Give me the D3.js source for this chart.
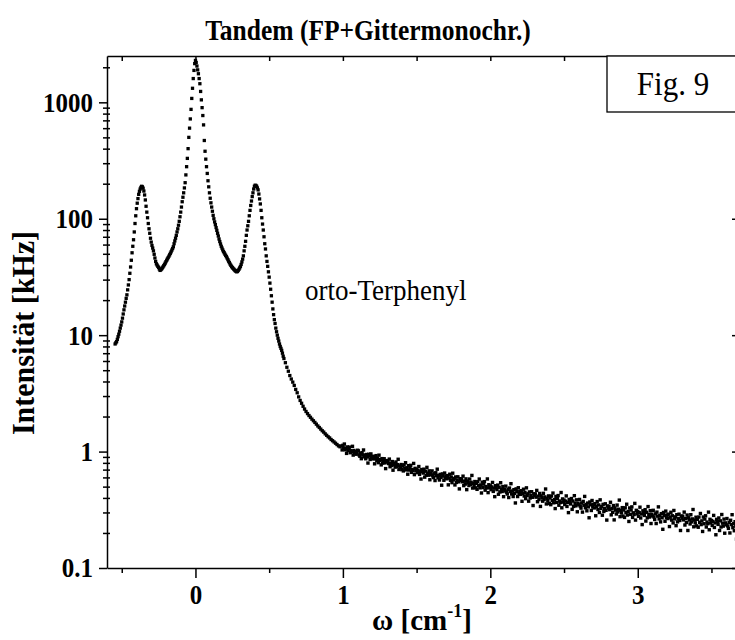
<!DOCTYPE html>
<html>
<head>
<meta charset="utf-8">
<script src="https://cdn.jsdelivr.net/npm/d3@7/dist/d3.min.js"></script>
<style>
  html, body { margin: 0; padding: 0; background: #fff; }
  svg { display: block; }
</style>
</head>
<body>
<svg id="chart" width="735" height="640"></svg>
<script>
// Brillouin spectrum of ortho-terphenyl, tandem spectrometer (FP + grating monochromator)
// [omega in cm^-1, intensity in kHz]
const centralScan = [
[-0.545,8.4],[-0.540,8.6],[-0.535,8.8],[-0.530,9.2],[-0.525,9.7],[-0.520,10.2],[-0.515,10.8],[-0.510,11.5],
[-0.505,12.2],[-0.500,13.0],[-0.495,14.0],[-0.490,15.2],[-0.485,16.5],[-0.480,17.8],[-0.475,19.2],[-0.470,20.7],
[-0.465,22.2],[-0.460,24.5],[-0.455,27.0],[-0.450,30.0],[-0.445,34],[-0.440,38.5],[-0.435,44],[-0.430,51],
[-0.425,58],[-0.420,66],[-0.415,77],[-0.410,91],[-0.405,106],[-0.400,122],[-0.395,136],[-0.390,149],
[-0.385,162],[-0.380,172],[-0.375,180],[-0.370,186],[-0.365,190],[-0.360,188],[-0.355,183],[-0.350,173],
[-0.345,160],[-0.340,145],[-0.335,128],[-0.330,114],[-0.325,102],[-0.320,91],[-0.315,82],[-0.310,75],
[-0.305,68],[-0.300,63],[-0.295,59],[-0.290,56],[-0.285,53],[-0.280,49.5],[-0.275,46],[-0.270,43],
[-0.265,41],[-0.260,40],[-0.255,39],[-0.250,38.2],[-0.245,37],[-0.240,36],[-0.235,36.5],[-0.230,37],
[-0.225,37.8],[-0.220,38.6],[-0.215,39.5],[-0.210,40.5],[-0.205,41.6],[-0.200,42.8],[-0.195,44],[-0.190,45.2],
[-0.185,46.4],[-0.180,47.7],[-0.175,49],[-0.170,50.5],[-0.165,52],[-0.160,53.8],[-0.155,55.5],[-0.150,57.5],
[-0.145,61],[-0.140,64.5],[-0.135,68],[-0.130,72],[-0.125,77],[-0.120,82],[-0.115,88],[-0.110,95],
[-0.105,104],[-0.100,114],[-0.095,126],[-0.090,140],[-0.085,153],[-0.080,167],[-0.075,184],[-0.070,204],
[-0.065,238],[-0.060,280],[-0.055,330],[-0.050,400],[-0.045,500],[-0.040,600],[-0.035,720],[-0.030,870],
[-0.025,1080],[-0.020,1320],[-0.015,1600],[-0.010,1880],[-0.005,2150],[0.000,2290],[0.005,2200],[0.010,2050],
[0.015,1900],[0.020,1760],[0.025,1600],[0.030,1445],[0.035,1240],[0.040,1050],[0.045,900],[0.050,770],
[0.055,640],[0.060,470],[0.065,380],[0.070,325],[0.075,280],[0.080,245],[0.085,212],[0.090,188],
[0.095,167],[0.100,150],[0.105,137],[0.110,126],[0.115,116],[0.120,107],[0.125,100],[0.130,94],
[0.135,89],[0.140,84],[0.145,79.5],[0.150,75],[0.155,71],[0.160,67],[0.165,63.7],[0.170,60.7],
[0.175,58],[0.180,56],[0.185,54],[0.190,52.3],[0.195,51],[0.200,49.6],[0.205,48.4],[0.210,47.2],
[0.215,45.9],[0.220,44.5],[0.225,43.2],[0.230,42],[0.235,40.8],[0.240,39.8],[0.245,38.9],[0.250,38.1],
[0.255,37.5],[0.260,36.9],[0.265,36.3],[0.270,35.8],[0.275,35.3],[0.280,35],[0.285,35.3],[0.290,36],
[0.295,36.8],[0.300,37.8],[0.305,38.9],[0.310,40.5],[0.315,42.6],[0.320,45],[0.325,48],[0.330,53],
[0.335,58],[0.340,64],[0.345,72],[0.350,80],[0.355,87],[0.360,95],[0.365,106],[0.370,118],
[0.375,130],[0.380,142],[0.385,155],[0.390,167],[0.395,180],[0.400,190],[0.405,194],[0.410,193],
[0.415,190],[0.420,184],[0.425,177],[0.430,163],[0.435,148],[0.440,134],[0.445,118],[0.450,102],
[0.455,90],[0.460,80],[0.465,70],[0.470,61],[0.475,55],[0.480,48],[0.485,43],[0.490,39],
[0.495,35],[0.500,31.5],[0.505,28],[0.510,24.8],[0.515,21.8],[0.520,19.2],[0.525,16.8],[0.530,15],
[0.535,13.6],[0.540,12.6],[0.545,11.5],[0.550,10.7],[0.555,10.0],[0.560,9.4],[0.565,8.9],[0.570,8.4],
[0.575,8.0],[0.580,7.7],[0.585,7.4],[0.590,7.0],[0.595,6.6],[0.600,6.3],
[0.61,5.8],[0.62,5.3],[0.63,4.9],[0.64,4.5],[0.65,4.2],[0.66,3.95],[0.67,3.7],[0.68,3.42],
[0.69,3.2],[0.70,2.95],[0.71,2.75],[0.72,2.6],[0.73,2.45],[0.74,2.32],[0.75,2.21],[0.76,2.12],
[0.77,2.04],[0.78,1.97],[0.79,1.9],[0.80,1.84],[0.81,1.78],[0.82,1.72],[0.83,1.66],[0.84,1.61],
[0.85,1.56],[0.86,1.51],[0.87,1.47],[0.88,1.42],[0.89,1.38],[0.90,1.34],[0.91,1.31],[0.92,1.27],
[0.93,1.24],[0.94,1.21],[0.95,1.18],[0.96,1.15],[0.97,1.12],[0.98,1.10]
];

// Wing of the spectrum, recorded with lower count rate (noisy)
const wingScan = [
[0.990,1.117],[0.995,1.034],[1.000,1.131],[1.005,1.070],[1.010,1.161],[1.015,1.036],[1.020,1.067],[1.025,0.965],
[1.030,1.096],[1.035,1.022],[1.040,1.062],[1.045,1.092],[1.050,0.978],[1.055,1.017],[1.060,0.996],[1.065,1.110],
[1.070,0.933],[1.075,1.022],[1.080,0.980],[1.085,0.999],[1.090,0.949],[1.095,0.976],[1.100,1.027],
[1.105,1.014],[1.110,0.936],[1.115,0.912],[1.120,0.966],[1.125,0.869],[1.130,0.978],[1.135,0.933],[1.140,1.032],
[1.145,0.901],[1.150,0.932],[1.155,0.868],[1.160,0.944],[1.165,0.900],[1.170,0.797],[1.175,0.948],[1.180,0.914],
[1.185,0.856],[1.190,0.955],[1.195,0.883],[1.200,0.908],
[1.205,0.865],[1.210,0.909],[1.215,0.785],[1.220,0.870],[1.225,0.923],[1.230,0.836],[1.235,0.879],[1.240,0.803],
[1.245,0.932],[1.250,0.837],[1.255,0.853],[1.260,0.769],[1.265,0.870],[1.270,0.797],[1.275,0.823],[1.280,0.868],
[1.285,0.800],[1.290,0.714],[1.295,0.837],[1.300,0.814],
[1.305,0.826],[1.310,0.789],[1.315,0.862],[1.320,0.741],[1.325,0.794],[1.330,0.759],[1.335,0.821],[1.340,0.692],
[1.345,0.792],[1.350,0.770],[1.355,0.735],[1.360,0.814],[1.365,0.747],[1.370,0.772],[1.375,0.859],[1.380,0.702],
[1.385,0.753],[1.390,0.728],[1.395,0.774],[1.400,0.700],
[1.405,0.751],[1.410,0.682],[1.415,0.770],[1.420,0.720],[1.425,0.802],[1.430,0.696],[1.435,0.726],[1.440,0.639],
[1.445,0.757],[1.450,0.694],[1.455,0.733],[1.460,0.762],[1.465,0.663],[1.470,0.702],[1.475,0.685],[1.480,0.791],
[1.485,0.634],[1.490,0.718],[1.495,0.684],[1.500,0.703],
[1.505,0.659],[1.510,0.690],[1.515,0.744],[1.520,0.637],[1.525,0.673],[1.530,0.581],[1.535,0.701],[1.540,0.679],
[1.545,0.654],[1.550,0.706],[1.555,0.603],[1.560,0.678],[1.565,0.626],[1.570,0.732],[1.575,0.653],[1.580,0.627],
[1.585,0.683],[1.590,0.573],[1.595,0.647],[1.600,0.631],
[1.605,0.682],[1.610,0.618],[1.615,0.598],[1.620,0.645],[1.625,0.564],[1.630,0.658],[1.635,0.621],[1.640,0.706],
[1.645,0.595],[1.650,0.624],[1.655,0.570],[1.660,0.637],[1.665,0.600],[1.670,0.514],[1.675,0.643],[1.680,0.616],
[1.685,0.567],[1.690,0.654],[1.695,0.593],[1.700,0.616],
[1.705,0.584],[1.710,0.622],[1.715,0.518],[1.720,0.592],[1.725,0.639],[1.730,0.566],[1.735,0.604],[1.740,0.541],
[1.745,0.652],[1.750,0.572],[1.755,0.588],[1.760,0.517],[1.765,0.605],[1.770,0.543],[1.775,0.567],[1.780,0.607],
[1.785,0.550],[1.790,0.478],[1.795,0.585],[1.800,0.566],
[1.805,0.581],[1.810,0.550],[1.815,0.615],[1.820,0.510],[1.825,0.557],[1.830,0.526],[1.835,0.583],[1.840,0.471],
[1.845,0.558],[1.850,0.540],[1.855,0.511],[1.860,0.581],[1.865,0.523],[1.870,0.545],[1.875,0.624],[1.880,0.486],
[1.885,0.532],[1.890,0.510],[1.895,0.553],[1.900,0.488],
[1.905,0.534],[1.910,0.474],[1.915,0.551],[1.920,0.509],[1.925,0.581],[1.930,0.488],[1.935,0.516],[1.940,0.441],
[1.945,0.546],[1.950,0.491],[1.955,0.526],[1.960,0.552],[1.965,0.466],[1.970,0.501],[1.975,0.487],[1.980,0.582],
[1.985,0.444],[1.990,0.519],[1.995,0.489],[2.000,0.508],
[2.005,0.471],[2.010,0.497],[2.015,0.543],[2.020,0.455],[2.025,0.485],[2.030,0.410],[2.035,0.509],[2.040,0.492],
[2.045,0.471],[2.050,0.515],[2.055,0.430],[2.060,0.494],[2.065,0.450],[2.070,0.540],[2.075,0.474],[2.080,0.454],
[2.085,0.501],[2.090,0.410],[2.095,0.471],[2.100,0.459],
[2.105,0.505],[2.110,0.448],[2.115,0.432],[2.120,0.474],[2.125,0.403],[2.130,0.486],[2.135,0.454],[2.140,0.530],
[2.145,0.432],[2.150,0.458],[2.155,0.411],[2.160,0.471],[2.165,0.438],[2.170,0.362],[2.175,0.478],[2.180,0.453],
[2.185,0.411],[2.190,0.489],[2.195,0.434],[2.200,0.456],
[2.205,0.429],[2.210,0.461],[2.215,0.374],[2.220,0.436],[2.225,0.475],[2.230,0.415],[2.235,0.446],[2.240,0.394],
[2.245,0.488],[2.250,0.421],[2.255,0.434],[2.260,0.375],[2.265,0.450],[2.270,0.399],[2.275,0.418],[2.280,0.452],
[2.285,0.405],[2.290,0.344],[2.295,0.434],[2.300,0.419],
[2.305,0.433],[2.310,0.406],[2.315,0.464],[2.320,0.371],[2.325,0.414],[2.330,0.387],[2.335,0.437],[2.340,0.338],
[2.345,0.416],[2.350,0.401],[2.355,0.375],[2.360,0.438],[2.365,0.387],[2.370,0.408],[2.375,0.477],[2.380,0.355],
[2.385,0.397],[2.390,0.378],[2.395,0.416],[2.400,0.358],
[2.405,0.400],[2.410,0.350],[2.415,0.415],[2.420,0.379],[2.425,0.440],[2.430,0.363],[2.435,0.386],[2.440,0.324],
[2.445,0.412],[2.450,0.366],[2.455,0.396],[2.460,0.419],[2.465,0.346],[2.470,0.376],[2.475,0.365],[2.480,0.445],
[2.485,0.329],[2.490,0.392],[2.495,0.368],[2.500,0.383],
[2.505,0.351],[2.510,0.375],[2.515,0.416],[2.520,0.338],[2.525,0.366],[2.530,0.299],[2.535,0.388],[2.540,0.373],
[2.545,0.355],[2.550,0.395],[2.555,0.319],[2.560,0.376],[2.565,0.338],[2.570,0.418],[2.575,0.360],[2.580,0.342],
[2.585,0.385],[2.590,0.304],[2.595,0.360],[2.600,0.349],
[2.605,0.388],[2.610,0.340],[2.615,0.327],[2.620,0.362],[2.625,0.302],[2.630,0.373],[2.635,0.346],[2.640,0.412],
[2.645,0.329],[2.650,0.351],[2.655,0.310],[2.660,0.361],[2.665,0.335],[2.670,0.270],[2.675,0.369],[2.680,0.349],
[2.685,0.312],[2.690,0.380],[2.695,0.334],[2.700,0.352],
[2.705,0.328],[2.710,0.357],[2.715,0.281],[2.720,0.336],[2.725,0.372],[2.730,0.318],[2.735,0.348],[2.740,0.300],
[2.745,0.385],[2.750,0.325],[2.755,0.338],[2.760,0.284],[2.765,0.352],[2.770,0.306],[2.775,0.325],[2.780,0.356],
[2.785,0.313],[2.790,0.258],[2.795,0.341],[2.800,0.327],
[2.805,0.339],[2.810,0.317],[2.815,0.367],[2.820,0.286],[2.825,0.324],[2.830,0.301],[2.835,0.344],[2.840,0.259],
[2.845,0.328],[2.850,0.314],[2.855,0.291],[2.860,0.347],[2.865,0.303],[2.870,0.320],[2.875,0.383],[2.880,0.276],
[2.885,0.312],[2.890,0.297],[2.895,0.330],[2.900,0.279],
[2.905,0.315],[2.910,0.272],[2.915,0.329],[2.920,0.299],[2.925,0.353],[2.930,0.285],[2.935,0.306],[2.940,0.251],
[2.945,0.328],[2.950,0.289],[2.955,0.315],[2.960,0.335],[2.965,0.272],[2.970,0.298],[2.975,0.288],[2.980,0.359],
[2.985,0.258],[2.990,0.313],[2.995,0.292],[3.000,0.306],
[3.005,0.278],[3.010,0.299],[3.015,0.333],[3.020,0.269],[3.025,0.291],[3.030,0.236],[3.035,0.310],[3.040,0.299],
[3.045,0.283],[3.050,0.317],[3.055,0.253],[3.060,0.301],[3.065,0.270],[3.070,0.337],[3.075,0.289],[3.080,0.274],
[3.085,0.311],[3.090,0.241],[3.095,0.290],[3.100,0.280],
[3.105,0.313],[3.110,0.274],[3.115,0.261],[3.120,0.292],[3.125,0.241],[3.130,0.302],[3.135,0.279],[3.140,0.335],
[3.145,0.264],[3.150,0.283],[3.155,0.249],[3.160,0.293],[3.165,0.270],[3.170,0.215],[3.175,0.300],[3.180,0.282],
[3.185,0.252],[3.190,0.308],[3.195,0.270],[3.200,0.286],
[3.205,0.266],[3.210,0.290],[3.215,0.227],[3.220,0.273],[3.225,0.301],[3.230,0.258],[3.235,0.281],[3.240,0.244],
[3.245,0.312],[3.250,0.264],[3.255,0.275],[3.260,0.231],[3.265,0.287],[3.270,0.249],[3.275,0.265],[3.280,0.290],
[3.285,0.256],[3.290,0.210],[3.295,0.279],[3.300,0.268],
[3.305,0.279],[3.310,0.259],[3.315,0.302],[3.320,0.234],[3.325,0.266],[3.330,0.246],[3.335,0.285],[3.340,0.210],
[3.345,0.270],[3.350,0.258],[3.355,0.239],[3.360,0.287],[3.365,0.249],[3.370,0.264],[3.375,0.318],[3.380,0.226],
[3.385,0.258],[3.390,0.244],[3.395,0.273],[3.400,0.230],
[3.405,0.262],[3.410,0.224],[3.415,0.274],[3.420,0.247],[3.425,0.294],[3.430,0.236],[3.435,0.254],[3.440,0.206],
[3.445,0.274],[3.450,0.240],[3.455,0.263],[3.460,0.281],[3.465,0.225],[3.470,0.248],[3.475,0.240],[3.480,0.302],
[3.485,0.213],[3.490,0.262],[3.495,0.244],[3.500,0.256],
[3.505,0.232],[3.510,0.251],[3.515,0.283],[3.520,0.223],[3.525,0.244],[3.530,0.193],[3.535,0.262],[3.540,0.251],
[3.545,0.237],[3.550,0.269],[3.555,0.210],[3.560,0.254],[3.565,0.225],[3.570,0.288],[3.575,0.243],[3.580,0.229],
[3.585,0.263],[3.590,0.199],[3.595,0.244],[3.600,0.235],
[3.605,0.266],[3.610,0.230],[3.615,0.219],[3.620,0.247],[3.625,0.200],[3.630,0.257],[3.635,0.236],[3.640,0.287],
[3.645,0.222],[3.650,0.240],[3.655,0.209],[3.660,0.250],[3.665,0.229],[3.670,0.177],[3.675,0.257]
];

const xMajorTicks = [0, 1, 2, 3];
const xMinorTicks = [-0.5, 0.5, 1.5, 2.5, 3.5];
const xTopTicks = [-0.5, 0, 0.5, 1, 1.5, 2, 2.5, 3, 3.5];
const yMajorTicks = [0.1, 1, 10, 100, 1000];
const yTickLabels = ["0.1", "1", "10", "100", "1000"];
const yMinorTicks = [];
yMajorTicks.forEach(d => { for (let k = 2; k <= 9; k++) { const v = d * k; if (v <= 2500) yMinorTicks.push(v); } });

const titleText = "Tandem (FP+Gittermonochr.)";
const yLabelText = "Intensität [kHz]";
const sampleText = "orto-Terphenyl";
const figText = "Fig. 9";

const svg = d3.select("#chart");
svg.append("rect").attr("width", 735).attr("height", 640).attr("fill", "#fff");

const plot = { left: 107, right: 738, top: 56, bottom: 568 };
const x = d3.scaleLinear().domain([-0.6, 3.68]).range([plot.left, plot.right]);
const y = d3.scaleLog().domain([0.1, 2500]).range([plot.bottom, plot.top]);

const serif = '"Liberation Serif", "Times New Roman", Times, serif';
const axisStroke = 1.5;
const stretch = 1.12; // tall, condensed look of the lettering

function styleAxis(g) {
  g.selectAll("path.domain").attr("stroke", "#000").attr("stroke-width", axisStroke);
  g.selectAll(".tick line").attr("stroke", "#000").attr("stroke-width", axisStroke);
  g.selectAll(".tick text").attr("fill", "#000").attr("font-family", serif)
    .attr("font-weight", "bold").attr("font-size", 25)
    .attr("transform", `scale(1,${stretch})`);
}

// bottom axis: major + minor ticks outward
const xAxisMajor = svg.append("g").attr("transform", `translate(0,${plot.bottom})`)
  .call(d3.axisBottom(x).tickValues(xMajorTicks).tickSizeInner(10).tickSizeOuter(0).tickPadding(4)
    .tickFormat(d3.format("d")));
styleAxis(xAxisMajor);
const xAxisMinor = svg.append("g").attr("transform", `translate(0,${plot.bottom})`)
  .call(d3.axisBottom(x).tickValues(xMinorTicks).tickSize(5).tickFormat(""));
styleAxis(xAxisMinor);
xAxisMinor.select("path.domain").remove();

// top axis: inward ticks
const xAxisTop = svg.append("g").attr("transform", `translate(0,${plot.top})`)
  .call(d3.axisBottom(x).tickValues(xTopTicks).tickSize(5).tickSizeOuter(0).tickFormat(""));
styleAxis(xAxisTop);

// left axis: outward decade ticks, minor ticks crossing the axis
const yAxisMajor = svg.append("g").attr("transform", `translate(${plot.left},0)`)
  .call(d3.axisLeft(y).tickValues(yMajorTicks).tickSizeInner(8).tickSizeOuter(0).tickPadding(6)
    .tickFormat((d, i) => yTickLabels[i]));
styleAxis(yAxisMajor);
const yAxisMinor = svg.append("g").attr("transform", `translate(${plot.left + 3},0)`)
  .call(d3.axisLeft(y).tickValues(yMinorTicks).tickSize(7).tickFormat(""));
styleAxis(yAxisMinor);
yAxisMinor.select("path.domain").remove();

// right axis: inward decade ticks
const yAxisRight = svg.append("g").attr("transform", `translate(${plot.right},0)`)
  .call(d3.axisLeft(y).tickValues(yMajorTicks).tickSize(6).tickSizeOuter(0).tickFormat(""));
styleAxis(yAxisRight);

// measured points
const pts = svg.append("g").attr("fill", "#000");
const szC = 3.3, szW = 3.4;
pts.selectAll("rect.c").data(centralScan).join("rect").attr("class", "c")
  .attr("x", d => x(d[0]) - szC / 2).attr("y", d => y(d[1]) - szC / 2)
  .attr("width", szC).attr("height", szC);
pts.selectAll("rect.w").data(wingScan).join("rect").attr("class", "w")
  .attr("x", d => x(d[0]) - szW / 2).attr("y", d => y(d[1]) - szW / 2)
  .attr("width", szW).attr("height", szW);

// title
svg.append("text").attr("transform", `translate(368,40) scale(1,1.15)`).attr("text-anchor", "middle")
  .attr("font-family", serif).attr("font-weight", "bold").attr("font-size", 25.5).text(titleText);

// axis titles
svg.append("text").attr("transform", "translate(34,333) rotate(-90) scale(1,1.08)").attr("text-anchor", "middle")
  .attr("font-family", serif).attr("font-weight", "bold").attr("font-size", 30).text(yLabelText);

const xl = svg.append("text").attr("x", 422).attr("y", 630).attr("text-anchor", "middle")
  .attr("font-family", serif).attr("font-weight", "bold").attr("font-size", 29);
xl.append("tspan").text("ω [cm");
xl.append("tspan").attr("font-size", 18).attr("dy", -13).text("-1");
xl.append("tspan").attr("dy", 13).text("]");

// sample annotation
svg.append("text").attr("transform", "translate(305,300) scale(1,1.1)").attr("font-family", serif)
  .attr("font-size", 27).text(sampleText);

// figure number box
svg.append("rect").attr("x", 607).attr("y", plot.top).attr("width", 140).attr("height", 56)
  .attr("fill", "#fff").attr("stroke", "#000").attr("stroke-width", 1.3);
svg.append("text").attr("transform", "translate(673,95) scale(1,1.1)").attr("text-anchor", "middle")
  .attr("font-family", serif).attr("font-size", 31).text(figText);
</script>
</body>
</html>
